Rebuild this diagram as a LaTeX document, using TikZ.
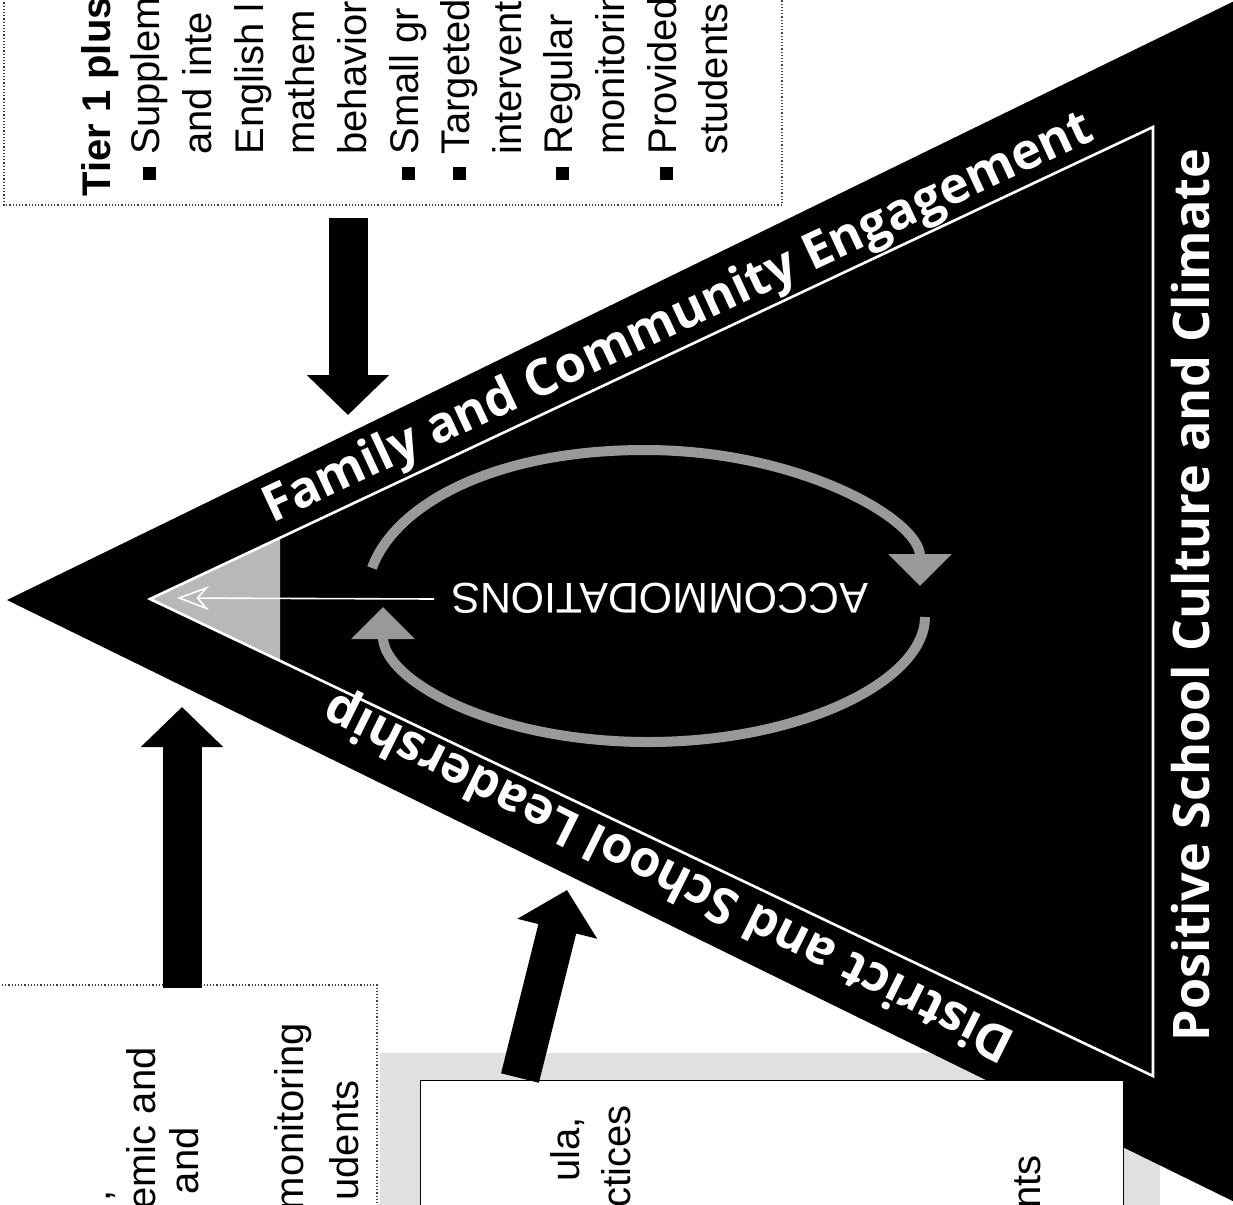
\documentclass[tikz,border=0pt]{standalone}
\usepackage{fontspec}
\setmainfont{Liberation Sans}
\newfontfamily\bandfont{Open Sans}
\usetikzlibrary{arrows.meta}

\definecolor{arcgray}{gray}{0.6}
\definecolor{tipgray}{gray}{0.72}
\definecolor{shadowgray}{gray}{0.88}

\newcommand{\blt}{\makebox[21pt][l]{\hspace*{8.5pt}\rule[1.5pt]{6.5pt}{6.5pt}}}
\newcommand{\tind}{\hspace*{21pt}}

\tikzset{
  band/.style={text=white,font=\bandfont\bfseries\fontsize{25.2}{30}\selectfont,inner sep=0pt,anchor=base},
  boxtext/.style={font=\fontsize{20}{24}\selectfont,inner sep=0pt,rotate=90},
  dotbox/.style={densely dotted,line width=0.6pt,draw=black!75},
  bigarrow/.style={line width=19.5pt,-{Triangle[width=40pt,length=20pt]}},
  arcarrow/.style={draw=arcgray,line width=5pt,-{Triangle[width=31pt,length=16pt]}}
}

\begin{document}
\begin{tikzpicture}[x=0.5pt,y=-0.5pt]
  \useasboundingbox (0,0) rectangle (1233,1205);
  \clip (0,0) rectangle (1233,1205);

  % boxes behind the pyramid
  \draw[dotbox] (4,-20) rectangle (782,205);
  \draw[dotbox] (-20,985) rectangle (377,1230);
  \fill[shadowgray] (380,1053) rectangle (1160,1230);

  % pyramid
  \fill (7,600) -- (1300,-31) -- (1300,1234) -- cycle;
  \fill[tipgray] (150,599) -- (280,538) -- (280,661) -- cycle;
  \draw[white,line width=1.3pt] (150,599) -- (1153,127) -- (1153,1076) -- cycle;

  \draw[fill=white,line width=0.5pt] (420,1080) rectangle (1123,1230);

  % accommodations
  \node[text=white,font=\fontsize{21.5}{24}\selectfont,inner sep=0pt,anchor=base,rotate=180] (accom) at (660,583) {ACCOMMODATIONS};
  \coordinate (accl) at (434,599);
  \coordinate (peak) at (177,598);
  \draw[white,line width=0.8pt,-{Stealth[length=16pt,width=12pt,open]}] (accl) -- (peak);
  \coordinate (a1) at (372,568);
  \coordinate (a2) at (645,450);
  \coordinate (a3) at (920,586);
  \coordinate (b1) at (925,617);
  \coordinate (b2) at (648,742);
  \coordinate (b3) at (383,607);
  \draw[arcarrow] (a1) .. controls (395,505) and (493,450) .. (a2) .. controls (800,450) and (920,520) .. (a3);
  \draw[arcarrow] (b1) .. controls (925,680) and (803,742) .. (b2) .. controls (493,742) and (383,680) .. (b3);

  % band labels
  \node[band,rotate=25] (family) at (684,331) {Family and Community Engagement};
  \node[band,rotate=153.5] (district) at (676,863) {District and School Leadership};
  \node[band,rotate=90] (climate) at (1209,595) {Positive School Culture and Climate};

  % tier 2 box
  \node[boxtext,anchor=base west,font=\fontsize{20}{24}\selectfont\bfseries] (tier) at (110,197) {Tier 1 plus};
  \foreach \bx/\txt [count=\i] in {159/{\blt Supplem},211/{\tind and inte},263/{\tind English l},
      314/{\tind mathem},366/{\tind behavior},418/{\blt Small gr},469/{\blt Targeted},
      521/{\tind intervent},572/{\blt Regular},624/{\tind monitorin},676/{\blt Provided},727/{\tind students}}
    \node[boxtext,anchor=base west] (tl\i) at (\bx,197) {\txt};

  % tier 1 box
  \node[boxtext,anchor=base east] (bl1) at (110,1190) {,};
  \node[boxtext,anchor=base east] (bl2) at (155,1047) {emic and};
  \node[boxtext,anchor=base east] (bl3) at (198,1127) {and};
  \node[boxtext,anchor=base east] (bl4) at (303,1023) {monitoring};
  \node[boxtext,anchor=base east] (bl5) at (358,1080) {udents};

  % core box
  \node[boxtext,anchor=base east] (cr1) at (579,1117) {ula,};
  \node[boxtext,anchor=base east] (cr2) at (630,1105) {ctices};
  \node[boxtext,anchor=base east] (cr3) at (1040,1155) {nts};

  % arrows into the pyramid
  \coordinate (t2out) at (348,218);
  \coordinate (t2in) at (348,415);
  \coordinate (t1out) at (182,988);
  \coordinate (t1in) at (182,707);
  \coordinate (crout) at (520,1078);
  \coordinate (crin) at (567,890);
  \draw[bigarrow] (t2out) -- (t2in);
  \draw[bigarrow] (t1out) -- (t1in);
  \draw[bigarrow] (crout) -- (crin);
\end{tikzpicture}
\end{document}
